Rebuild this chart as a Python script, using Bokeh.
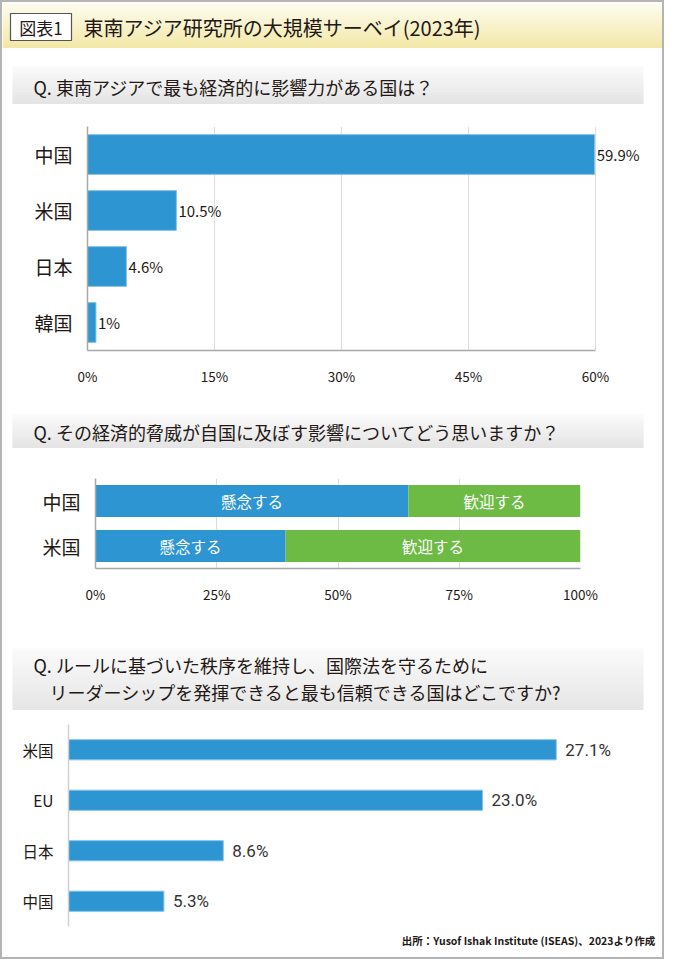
from bokeh.plotting import figure
from bokeh.layouts import column, row
from bokeh.models import Range1d, FactorRange, FixedTicker, PrintfTickFormatter
from bokeh.core.properties import value
from bokeh.embed import file_html
from bokeh.resources import INLINE

# ---------------- data ----------------
title_tag = "図表1"
title_text = "東南アジア研究所の大規模サーベイ(2023年)"

q1_text = "Q. 東南アジアで最も経済的に影響力がある国は？"
q1_countries = ["中国", "米国", "日本", "韓国"]
q1_values = [59.9, 10.5, 4.6, 1.0]
q1_labels = ["59.9%", "10.5%", "4.6%", "1%"]
q1_ticks = [0, 15, 30, 45, 60]

q2_text = "Q. その経済的脅威が自国に及ぼす影響についてどう思いますか？"
q2_countries = ["中国", "米国"]
q2_concern = [64.5, 39.2]
q2_welcome = [35.5, 60.8]
q2_concern_label = "懸念する"
q2_welcome_label = "歓迎する"
q2_ticks = [0, 25, 50, 75, 100]

q3_text_1 = "Q. ルールに基づいた秩序を維持し、国際法を守るために"
q3_text_2 = "リーダーシップを発揮できると最も信頼できる国はどこですか?"
q3_countries = ["米国", "EU", "日本", "中国"]
q3_values = [27.1, 23.0, 8.6, 5.3]
q3_labels = ["27.1%", "23.0%", "8.6%", "5.3%"]

source_text = "出所：Yusof Ishak Institute (ISEAS)、2023より作成"

# ---------------- style ----------------
W = 660
JP = "Noto Sans CJK JP"
TXT = "#231815"
BLUE = "#2E95D3"
BLUE_EDGE = "#86C3EA"
GREEN = "#6DBB45"
GRID = "#dcdcdc"
AXIS = "#a8a8a8"


def deco_fig(h):
    p = figure(width=W, height=h, x_range=Range1d(0, W), y_range=Range1d(h, 0),
               output_backend="svg", toolbar_location=None, min_border=0,
               background_fill_color="white", border_fill_color="white")
    p.axis.visible = False
    p.grid.visible = False
    p.outline_line_color = None
    return p


def gradient_band(p, x0, x1, y0, y1, c_top, c_bot, n=24):
    step = (y1 - y0) / n
    tops, bots, cols = [], [], []
    for i in range(n):
        t = i / (n - 1)
        r = round(c_top[0] + (c_bot[0] - c_top[0]) * t)
        g = round(c_top[1] + (c_bot[1] - c_top[1]) * t)
        b = round(c_top[2] + (c_bot[2] - c_top[2]) * t)
        tops.append(y0 + i * step)
        bots.append(y0 + (i + 1) * step + 0.5)
        cols.append("#%02x%02x%02x" % (r, g, b))
    p.quad(left=x0, right=x1, top=tops, bottom=bots, fill_color=cols, line_color=None)


def question_text(p, x, y, txt):
    p.text(x=[x], y=[y], text=[txt], text_font=value(JP), text_font_size="18px",
           text_color=TXT, text_baseline="middle", text_align="left")


# ---------------- header ----------------
hdr = deco_fig(108)
gradient_band(hdr, 0, W, 0, 45, (254, 252, 240), (242, 232, 168))
hdr.quad(left=8, right=69, top=11, bottom=38, fill_color="white", line_color="#555555", line_width=1.2)
hdr.text(x=[38.5], y=[24.5], text=[title_tag], text_font=value(JP), text_font_size="17px",
         text_color=TXT, text_align="center", text_baseline="middle")
hdr.text(x=[81], y=[24.5], text=[title_text], text_font=value(JP), text_font_size="20px",
         text_color=TXT, text_align="left", text_baseline="middle")
gradient_band(hdr, 10, 641, 64, 101, (250, 250, 250), (228, 228, 228))
question_text(hdr, 31, 84, q1_text)

# ---------------- chart 1 ----------------
c1_left, c1_right_px, c1_frame_right = 85, 593, 650
c1_xend = q1_ticks[-1] * (c1_frame_right - c1_left) / (c1_right_px - c1_left)
c1 = figure(width=W, height=278, y_range=FactorRange(factors=list(reversed(q1_countries)), range_padding=0),
            x_range=Range1d(0, c1_xend), output_backend="svg", toolbar_location=None,
            min_border_left=c1_left, min_border_right=W - c1_frame_right,
            min_border_top=16, min_border_bottom=35)
c1.hbar(y=q1_countries, right=q1_values, left=0, height=0.71,
        fill_color=BLUE, line_color=BLUE_EDGE, line_width=1)
c1.text(x=q1_values, y=q1_countries, text=q1_labels, x_offset=2,
        text_font=value(JP), text_font_size="15px", text_color=TXT,
        text_baseline="middle", text_align="left")

# ---------------- question 2 ----------------
qq2 = deco_fig(69)
gradient_band(qq2, 10, 641, 26, 59, (250, 250, 250), (228, 228, 228))
question_text(qq2, 31, 43, q2_text)

# ---------------- chart 2 ----------------
c2_left, c2_right = 93, 578
c2 = figure(width=W, height=157, y_range=FactorRange(factors=list(reversed(q2_countries)), range_padding=0),
            x_range=Range1d(0, q2_ticks[-1]), output_backend="svg", toolbar_location=None,
            min_border_left=c2_left, min_border_right=W - c2_right,
            min_border_top=21, min_border_bottom=46)
c2_mid = [c + w for c, w in zip(q2_concern, q2_welcome)]
c2.hbar(y=q2_countries, left=0, right=q2_concern, height=0.71, fill_color=BLUE, line_color=None)
c2.hbar(y=q2_countries, left=q2_concern, right=c2_mid, height=0.71, fill_color=GREEN, line_color=None)
c2.text(x=[c / 2 for c in q2_concern], y=q2_countries, text=[q2_concern_label] * len(q2_countries),
        text_font=value(JP), text_font_size="15.5px", text_color="white",
        text_align="center", text_baseline="middle")
c2.text(x=[c + w / 2 for c, w in zip(q2_concern, q2_welcome)], y=q2_countries,
        text=[q2_welcome_label] * len(q2_countries),
        text_font=value(JP), text_font_size="15.5px", text_color="white",
        text_align="center", text_baseline="middle")

for p, ticks in ((c1, q1_ticks), (c2, q2_ticks)):
    p.outline_line_color = None
    p.ygrid.visible = False
    p.xgrid.ticker = FixedTicker(ticks=ticks)
    p.xgrid.grid_line_color = GRID
    p.xaxis.ticker = FixedTicker(ticks=ticks)
    p.xaxis.formatter = PrintfTickFormatter(format="%d%%")
    p.xaxis.bounds = (ticks[0], ticks[-1])
    p.xaxis.major_label_text_font = JP
    p.xaxis.major_label_text_font_size = "13.5px"
    p.xaxis.major_label_text_color = TXT
    p.xaxis.major_label_standoff = 9
    p.yaxis.major_label_text_font = JP
    p.yaxis.major_label_text_font_size = "19px"
    p.yaxis.major_label_text_color = TXT
    p.yaxis.major_label_standoff = 9
    for ax in (p.xaxis, p.yaxis):
        ax.axis_line_color = AXIS
        ax.axis_line_width = 1.5
        ax.major_tick_line_color = None
        ax.minor_tick_line_color = None

# ---------------- question 3 ----------------
qq3 = deco_fig(103)
gradient_band(qq3, 10, 641, 34, 95, (250, 250, 250), (230, 230, 230))
question_text(qq3, 31, 50, q3_text_1)
question_text(qq3, 47, 77, q3_text_2)

# ---------------- chart 3 ----------------
c3_left, c3_px_per, c3_frame_right = 66, 18.0, 650
c3_xend = (c3_frame_right - c3_left) / c3_px_per
c3 = figure(width=W, height=212, y_range=FactorRange(factors=list(reversed(q3_countries)), range_padding=0),
            x_range=Range1d(0, c3_xend), output_backend="svg", toolbar_location=None,
            min_border_left=c3_left, min_border_right=W - c3_frame_right,
            min_border_top=7, min_border_bottom=3)
c3.hbar(y=q3_countries, right=q3_values, left=0, height=0.4,
        fill_color=BLUE, line_color=BLUE_EDGE, line_width=1)
c3.text(x=q3_values, y=q3_countries, text=q3_labels, x_offset=9,
        text_font=value("Roboto"), text_font_size="17px", text_color="#333333",
        text_baseline="middle", text_align="left")
c3.outline_line_color = None
c3.grid.visible = False
c3.xaxis.visible = False
c3.yaxis.axis_line_color = "#d0d0d0"
c3.yaxis.axis_line_width = 1.5
c3.yaxis.major_tick_line_color = None
c3.yaxis.minor_tick_line_color = None
c3.yaxis.major_label_text_font = JP
c3.yaxis.major_label_text_font_size = "15.5px"
c3.yaxis.major_label_text_color = TXT
c3.yaxis.major_label_standoff = 9

# ---------------- footer ----------------
ftr = deco_fig(28)
ftr.text(x=[653], y=[11], text=[source_text], text_font=value(JP), text_font_size="10.5px",
         text_font_style="bold", text_color=TXT, text_align="right", text_baseline="middle")

# wrap each figure separately so their frames are not aligned to each other
parts = [row(f) for f in (hdr, c1, qq2, c2, qq3, c3, ftr)]
layout = column(*parts, spacing=0, styles={"border": "2px solid #b4b4b4"})

open("out.html", "w").write(file_html(layout, INLINE))
